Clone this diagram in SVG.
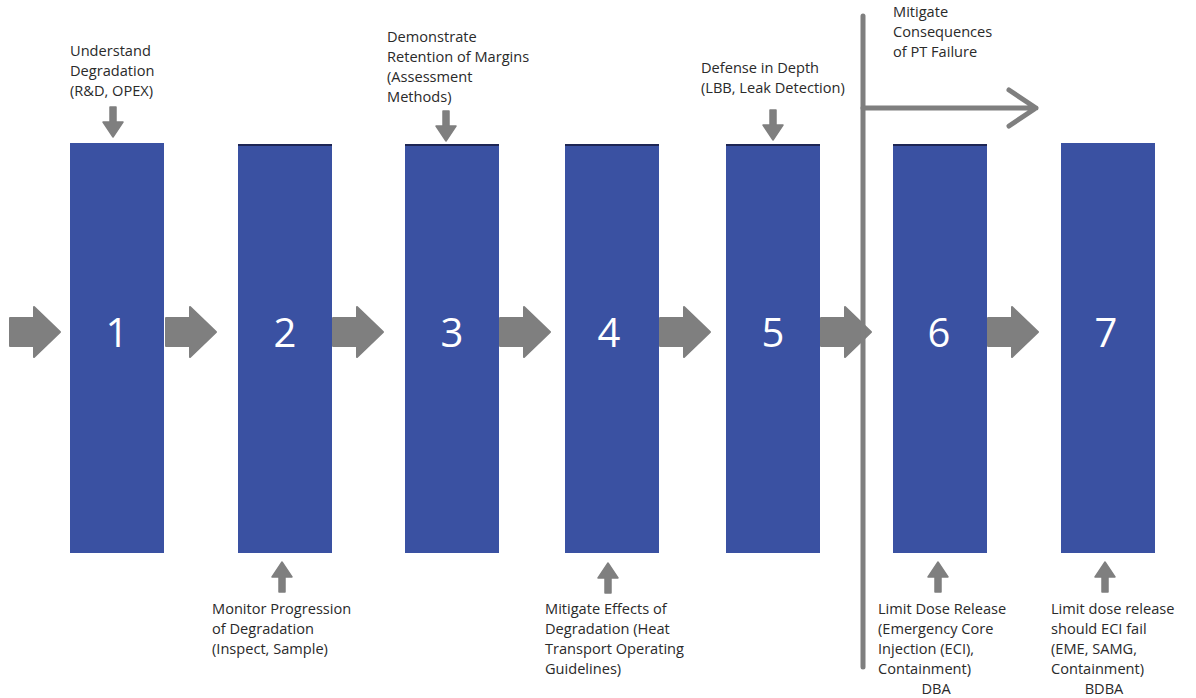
<svg xmlns="http://www.w3.org/2000/svg" width="1196" height="698" viewBox="0 0 1196 698">
<style>
.box{fill:#3A51A2}
.topline{stroke:#1E2654;stroke-width:2}
.num{font-family:"Open Sans","Liberation Sans",sans-serif;font-size:40px;fill:#fff;text-anchor:middle}
.lbl{font-family:"Open Sans","Liberation Sans",sans-serif;font-size:14.6px;fill:#2a2a2a}
.ga{fill:#7F7F7F;stroke:#7F7F7F;stroke-width:2;stroke-linejoin:round}
.sa{fill:#7F7F7F;stroke:#7F7F7F;stroke-width:1.5;stroke-linejoin:round}
.ln{stroke:#7F7F7F;stroke-width:5;fill:none;stroke-linecap:round;stroke-linejoin:round}
</style>
<defs>
<path id="blk" d="M0,-14 L24,-14 L24,-25 L50,0 L24,25 L24,14 L0,14 Z"/>
<path id="dn" d="M-3,0 L3,0 L3,15 L10,15 L0,30 L-10,15 L-3,15 Z"/>
</defs>
<rect width="1196" height="698" fill="#fff"/>
<g id="connectors">
<use href="#blk" class="ga" transform="translate(10,332)"/>
<use href="#blk" class="ga" transform="translate(166,332)"/>
<use href="#blk" class="ga" transform="translate(333,332)"/>
<use href="#blk" class="ga" transform="translate(500,332)"/>
<use href="#blk" class="ga" transform="translate(660,332)"/>
<use href="#blk" class="ga" transform="translate(821,332)"/>
<use href="#blk" class="ga" transform="translate(988,332)"/>
<use href="#dn" class="sa" transform="translate(113,107)"/>
<use href="#dn" class="sa" transform="translate(446,111)"/>
<use href="#dn" class="sa" transform="translate(773,110)"/>
<use href="#dn" class="sa" transform="translate(282,592) rotate(180)"/>
<use href="#dn" class="sa" transform="translate(608,593) rotate(180)"/>
<use href="#dn" class="sa" transform="translate(938,592) rotate(180)"/>
<use href="#dn" class="sa" transform="translate(1105,592) rotate(180)"/>
<path class="ln" d="M863,16 L863,667"/>
<path class="ln" d="M863,108 L1036,108 M1009,90 L1036,108 L1009,126"/>
</g>
<g id="node1"><rect class="box" x="70" y="143" width="94" height="410"/><text class="num" x="117" y="347">1</text>
<text class="lbl" x="70" y="56">Understand</text><text class="lbl" x="70" y="76">Degradation</text><text class="lbl" x="70" y="96">(R&amp;D, OPEX)</text></g>
<g id="node2"><rect class="box" x="238" y="144" width="94" height="409"/><line class="topline" x1="238" y1="145" x2="332" y2="145"/><text class="num" x="285" y="347">2</text>
<text class="lbl" x="212" y="614">Monitor Progression</text><text class="lbl" x="212" y="634">of Degradation</text><text class="lbl" x="212" y="654">(Inspect, Sample)</text></g>
<g id="node3"><rect class="box" x="405" y="144" width="94" height="409"/><line class="topline" x1="405" y1="145" x2="499" y2="145"/><text class="num" x="452" y="347">3</text>
<text class="lbl" x="387" y="42">Demonstrate</text><text class="lbl" x="387" y="62">Retention of Margins</text><text class="lbl" x="387" y="82">(Assessment</text><text class="lbl" x="387" y="102">Methods)</text></g>
<g id="node4"><rect class="box" x="565" y="144" width="94" height="409"/><line class="topline" x1="565" y1="145" x2="659" y2="145"/><text class="num" x="609" y="347">4</text>
<text class="lbl" x="545" y="614">Mitigate Effects of</text><text class="lbl" x="545" y="634">Degradation (Heat</text><text class="lbl" x="545" y="654">Transport Operating</text><text class="lbl" x="545" y="674">Guidelines)</text></g>
<g id="node5"><rect class="box" x="726" y="144" width="94" height="409"/><line class="topline" x1="726" y1="145" x2="820" y2="145"/><text class="num" x="773" y="347">5</text>
<text class="lbl" x="701" y="73">Defense in Depth</text><text class="lbl" x="701" y="93">(LBB, Leak Detection)</text></g>
<g id="node6"><rect class="box" x="893" y="144" width="94" height="409"/><line class="topline" x1="893" y1="145" x2="987" y2="145"/><text class="num" x="939" y="347">6</text>
<text class="lbl" x="893" y="17">Mitigate</text><text class="lbl" x="893" y="37">Consequences</text><text class="lbl" x="893" y="57">of PT Failure</text>
<text class="lbl" x="878" y="614">Limit Dose Release</text><text class="lbl" x="878" y="634">(Emergency Core</text><text class="lbl" x="878" y="654">Injection (ECI),</text><text class="lbl" x="878" y="674">Containment)</text><text class="lbl" x="936" y="694" text-anchor="middle">DBA</text></g>
<g id="node7"><rect class="box" x="1061" y="143" width="94" height="410"/><text class="num" x="1106" y="347">7</text>
<text class="lbl" x="1051" y="614">Limit dose release</text><text class="lbl" x="1051" y="634">should ECI fail</text><text class="lbl" x="1051" y="654">(EME, SAMG,</text><text class="lbl" x="1051" y="674">Containment)</text><text class="lbl" x="1104" y="694" text-anchor="middle">BDBA</text></g>
</svg>
